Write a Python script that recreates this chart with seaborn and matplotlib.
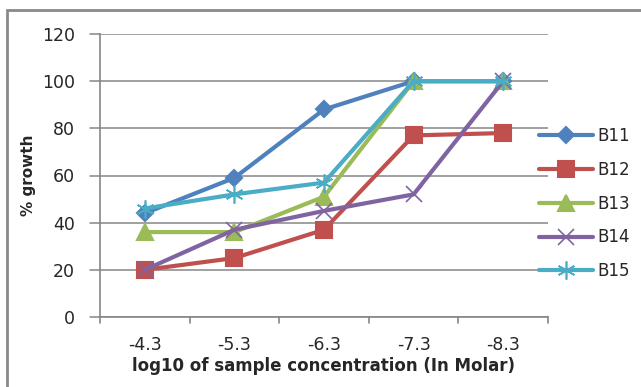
import matplotlib
matplotlib.use("Agg")
import matplotlib.pyplot as plt
from matplotlib.patches import Rectangle
import seaborn as sns
import pandas as pd

# Concentrations (log10, molar) and % growth per compound
concentrations = ["-4.3", "-5.3", "-6.3", "-7.3", "-8.3"]
b11 = [44, 59, 88, 100, 100]
b12 = [20, 25, 37, 77, 78]
b13 = [36, 36, 51, 100, 100]
b14 = [20, 37, 45, 52, 100]
b15 = [46, 52, 57, 100, 100]
series_names = ["B11", "B12", "B13", "B14", "B15"]
y_ticks = [0, 20, 40, 60, 80, 100, 120]

series = [b11, b12, b13, b14, b15]
rows = []
for name, vals in zip(series_names, series):
    for i, (c, v) in enumerate(zip(concentrations, vals)):
        rows.append({"pos": i, "conc": c, "growth": v, "compound": name})
df = pd.DataFrame(rows)

palette = {"B11": "#4F81BD", "B12": "#C0504D", "B13": "#9BBB59",
           "B14": "#8064A2", "B15": "#4BACC6"}
markers = {"B11": "D", "B12": "s", "B13": "^", "B14": "x", "B15": (6, 2, 0)}
msizes = {"B11": 8, "B12": 12, "B13": 11, "B14": 12, "B15": 13}
mew = {"B11": 1.5, "B12": 1.5, "B13": 1.5, "B14": 1.2, "B15": 1.2}

sns.set_style("white")
plt.rcParams["font.family"] = ["DejaVu Sans"]

fig = plt.figure(figsize=(6.41, 3.87), dpi=100)
ax = fig.add_axes([100 / 641, 70 / 387, 448 / 641, 283 / 387])

for name in series_names:
    sub = df[df["compound"] == name]
    sns.lineplot(data=sub, x="pos", y="growth", ax=ax, color=palette[name],
                 linewidth=3, marker=markers[name], markersize=msizes[name],
                 markeredgecolor=palette[name], markeredgewidth=mew[name],
                 label=name, zorder=3)

ax.set_xlim(-0.5, len(concentrations) - 0.5)
ax.set_ylim(0, 120)
ax.set_yticks(y_ticks)
ax.set_yticklabels([str(t) for t in y_ticks], fontsize=12.5)
ax.set_xticks(range(len(concentrations)))
ax.set_xticklabels(concentrations, fontsize=12.5)
ax.tick_params(axis="x", length=0, pad=14)
ax.tick_params(axis="y", length=0, pad=18)

# category boundary ticks and gridlines
for b in [i - 0.5 for i in range(len(concentrations) + 1)]:
    ax.plot([b, b], [0, -2.6], color="#868686", lw=1.2, clip_on=False, zorder=1)
for t in y_ticks:
    ax.plot([-0.5, len(concentrations) - 0.5], [t, t], color="#868686", lw=1.1, zorder=1)
    ax.plot([-0.5 - 0.11, -0.5], [t, t], color="#868686", lw=1.1, clip_on=False, zorder=1)

for side in ["top", "right"]:
    ax.spines[side].set_visible(False)
ax.spines["left"].set_color("#868686")
ax.spines["bottom"].set_color("#868686")
ax.spines["left"].set_linewidth(1.2)
ax.spines["bottom"].set_linewidth(1.2)

ax.set_xlabel("log10 of sample concentration (In Molar)", fontsize=12,
              fontweight="bold", labelpad=2)
ax.set_ylabel("% growth", fontsize=11, fontweight="bold", labelpad=4)

leg = ax.legend(loc="upper left", bbox_to_anchor=(0.966, 0.695), frameon=False,
                fontsize=12, handlelength=3.2, labelspacing=0.95, handletextpad=0.3,
                borderaxespad=0)

fig.patches.append(Rectangle((7 / 641, -0.05), 1.2, (387 - 10) / 387 + 0.05,
                             transform=fig.transFigure, fill=False,
                             edgecolor="#8a8a8a", linewidth=2))

fig.savefig("out.png", dpi=100)
